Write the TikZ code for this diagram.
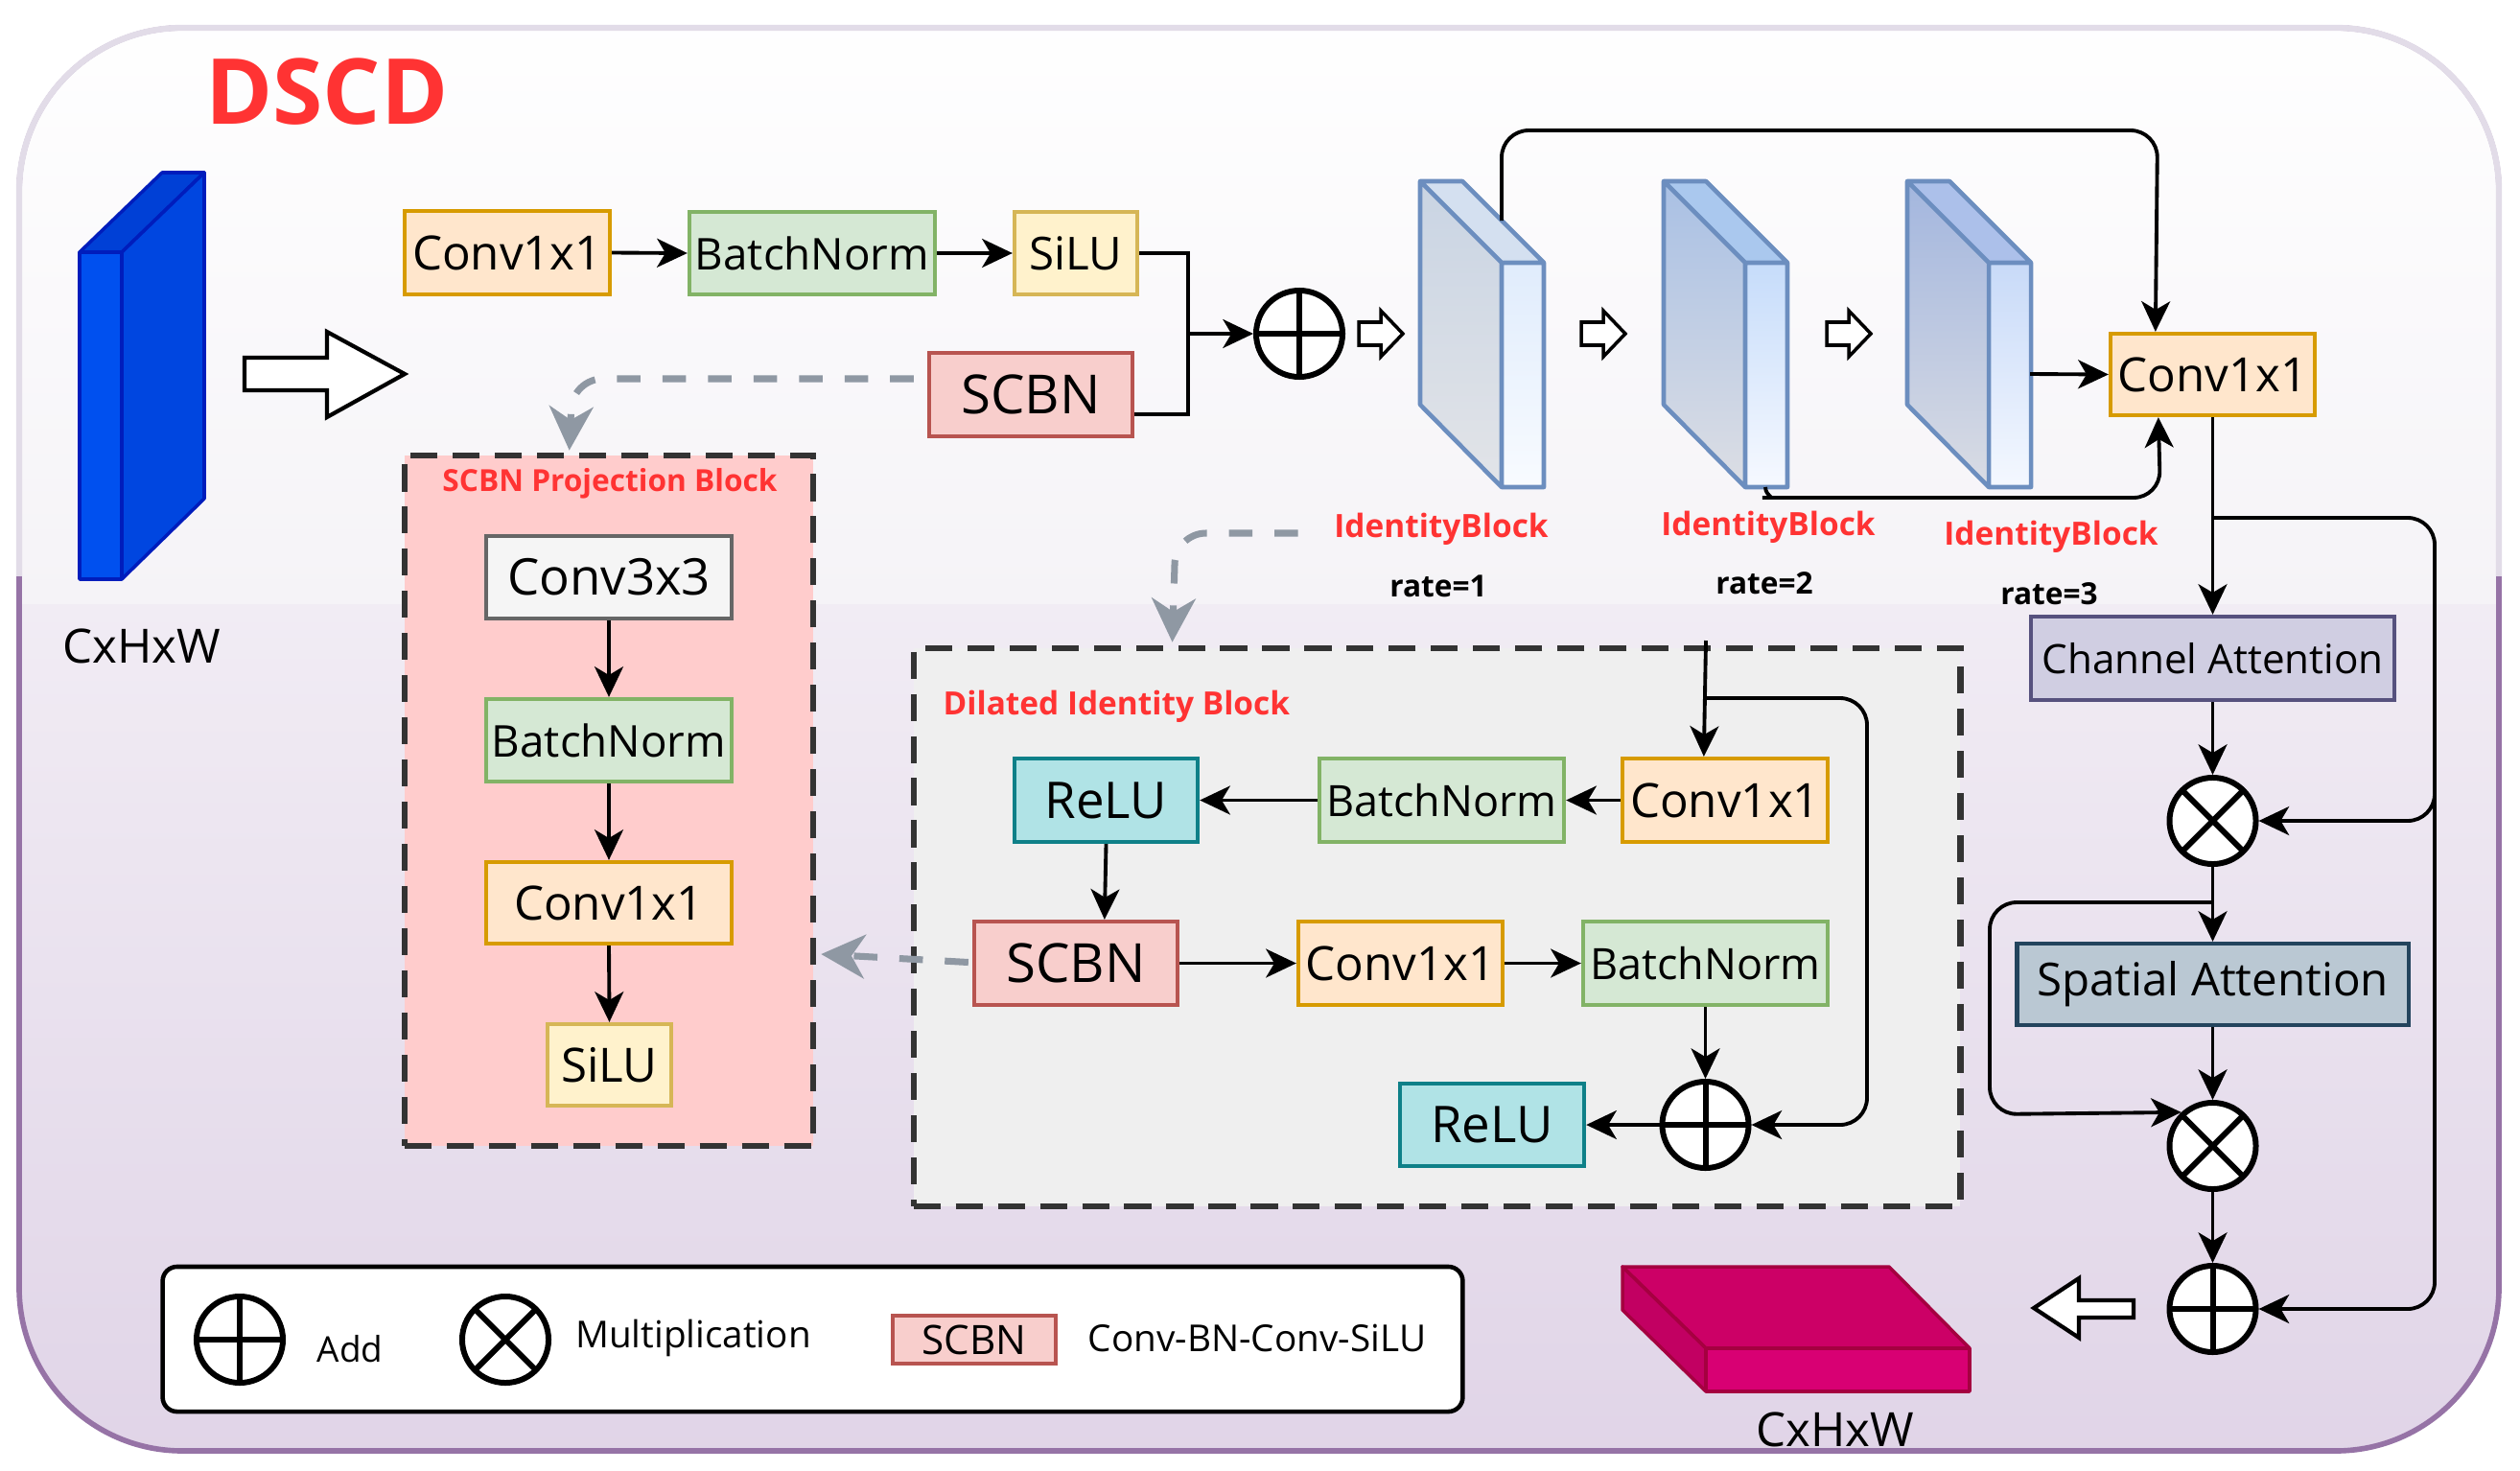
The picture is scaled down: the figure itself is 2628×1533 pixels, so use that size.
\documentclass[tikz,border=0pt]{standalone}
\usepackage{fontspec}
\setmainfont{Open Sans}
\usetikzlibrary{arrows.meta,calc}
\definecolor{ofill}{HTML}{FFE6CC}\definecolor{ostk}{HTML}{D79B00}
\definecolor{gfill}{HTML}{D5E8D4}\definecolor{gstk}{HTML}{82B366}
\definecolor{yfill}{HTML}{FFF2CC}\definecolor{ystk}{HTML}{D6B656}
\definecolor{rfill}{HTML}{F8CECC}\definecolor{rstk}{HTML}{B85450}
\definecolor{wfill}{HTML}{F5F5F5}\definecolor{wstk}{HTML}{666666}
\definecolor{cfill}{HTML}{B0E3E6}\definecolor{cstk}{HTML}{0E8088}
\definecolor{pfill}{HTML}{D0CEE2}\definecolor{pstk}{HTML}{56517E}
\definecolor{sfill}{HTML}{BAC8D3}\definecolor{sstk}{HTML}{23445D}
\definecolor{projfill}{HTML}{FFCCCC}\definecolor{dilfill}{HTML}{EFEFEF}
\definecolor{dk}{HTML}{333333}\definecolor{gry}{HTML}{8F98A3}
\definecolor{redt}{HTML}{FF3333}
\definecolor{bgmid}{HTML}{F5F3F7}\definecolor{bgmidb}{HTML}{F1ECF4}\definecolor{bglow}{HTML}{E0D4E7}
\definecolor{bordlow}{HTML}{9673A6}\definecolor{bordtop}{HTML}{E2DCE8}
\definecolor{bfront}{HTML}{0050EF}\definecolor{btop}{HTML}{0040D6}\definecolor{bside}{HTML}{0046E0}\definecolor{bstk}{HTML}{001DBC}
\definecolor{ibstk}{HTML}{6C8EBF}
\definecolor{ia1}{HTML}{C9D4E3}\definecolor{ia2}{HTML}{E2E4E8}\definecolor{ia3}{HTML}{D4E0F0}\definecolor{ia4}{HTML}{E0ECFC}\definecolor{ia5}{HTML}{F8FBFF}
\definecolor{ib1}{HTML}{A9C0E4}\definecolor{ib2}{HTML}{DCDEE4}\definecolor{ib3}{HTML}{AAC8EE}\definecolor{ib4}{HTML}{C6DCFA}\definecolor{ib5}{HTML}{F6F9FF}
\definecolor{ic1}{HTML}{A3B6DE}\definecolor{ic2}{HTML}{D9DCE4}\definecolor{ic3}{HTML}{ACC0EA}\definecolor{ic4}{HTML}{C8DAF8}\definecolor{ic5}{HTML}{F4F8FF}
\definecolor{mtop}{HTML}{CC0066}\definecolor{mfront}{HTML}{D80073}\definecolor{mside}{HTML}{C20062}\definecolor{mstk}{HTML}{A50040}
\newcommand{\fsz}[1]{\fontsize{#1}{#1}\selectfont}
\newcommand{\idblk}[6]{%
 \shade[top color=#2, bottom color=#3] ({1481+#1},189) -- ({1566+#1},274) -- ({1566+#1},508) -- ({1481+#1},422) -- cycle;
 \fill[#4] ({1481+#1},189) -- ({1525+#1},189) -- ({1610+#1},274) -- ({1566+#1},274) -- cycle;
 \shade[top color=#5, bottom color=#6] ({1566+#1},274) rectangle ({1610+#1},508);
 \draw[draw=ibstk, line width=1.3pt, line join=round] ({1481+#1},189) -- ({1525+#1},189) -- ({1610+#1},274) -- ({1610+#1},508) -- ({1566+#1},508) -- ({1481+#1},422) -- cycle
   ({1481+#1},189) -- ({1566+#1},274) -- ({1610+#1},274) ({1566+#1},274) -- ({1566+#1},508);
}
\begin{document}
\begin{tikzpicture}[x=0.01cm,y=-0.01cm,
 bx/.style={draw, line width=1.2pt, inner sep=0pt, align=center},
 wh/.style 2 args={minimum width=#1cm, minimum height=#2cm},
 obox/.style={bx, fill=ofill, draw=ostk},
 gbox/.style={bx, fill=gfill, draw=gstk},
 ybox/.style={bx, fill=yfill, draw=ystk},
 rbox/.style={bx, fill=rfill, draw=rstk},
 wbox/.style={bx, fill=wfill, draw=wstk},
 cbox/.style={bx, fill=cfill, draw=cstk},
 pbox/.style={bx, fill=pfill, draw=pstk},
 sbox/.style={bx, fill=sfill, draw=sstk},
 arr/.style={line width=1.1pt, rounded corners=8pt, -{Stealth[length=9pt,width=8.5pt,inset=2.5pt]}},
 ln/.style={line width=1.1pt, rounded corners=8pt},
 garr/.style={draw=gry, line width=2pt, dash pattern=on 7pt off 6.5pt, rounded corners=9pt, -{Stealth[length=13pt,width=13pt,inset=4pt]}},
 dashblk/.style={draw=dk, line width=1.8pt, dash pattern=on 8pt off 4.5pt, inner sep=0pt},
 addc/.style={circle, draw, fill=white, line width=1.7pt, minimum size=0.9cm, inner sep=0pt,
   path picture={\draw[line width=1.7pt] (path picture bounding box.north) -- (path picture bounding box.south) (path picture bounding box.west) -- (path picture bounding box.east);}},
 mulc/.style={circle, draw, fill=white, line width=1.7pt, minimum size=0.9cm, inner sep=0pt,
   path picture={\draw[line width=1.7pt] (path picture bounding box.north west) -- (path picture bounding box.south east) (path picture bounding box.north east) -- (path picture bounding box.south west);}},
 rlab/.style={text=redt, font=\bfseries\fsz{9.5}, inner sep=0pt},
 ratelab/.style={font=\bfseries\fsz{9}, inner sep=0pt},
 hol/.style={draw, fill=white, line width=1.2pt, line join=miter},
]
\useasboundingbox (0,0) rectangle (2628,1533);
\fill[white] (0,0) rectangle (2628,1533);
% background panel
\begin{scope}
 \clip[rounded corners=1.7cm] (20,29) rectangle (2606,1513);
 \shade[top color=white, bottom color=bgmid] (0,0) rectangle (2628,630);
 \shade[top color=bgmidb, bottom color=bglow] (0,630) rectangle (2628,1533);
\end{scope}
\draw[rounded corners=1.7cm, draw=bordlow, line width=1.6pt] (20,29) rectangle (2606,1513);
\begin{scope}
 \clip (0,0) rectangle (2628,600);
 \draw[rounded corners=1.7cm, draw=bordtop, line width=1.8pt] (20,29) rectangle (2606,1513);
\end{scope}

% title
\node[text=redt, font=\bfseries\fsz{27}, inner sep=0pt] (title) at (341,96) {DSCD};

% input block
\filldraw[fill=bfront, draw=bstk, line width=1pt, line join=round] (83,263) rectangle (127,604);
\filldraw[fill=btop, draw=bstk, line width=1pt, line join=round] (83,263) -- (127,263) -- (213,180) -- (169,180) -- cycle;
\filldraw[fill=bside, draw=bstk, line width=1pt, line join=round] (127,263) -- (213,180) -- (213,520) -- (127,604) -- cycle;
\node[font=\fsz{14}, inner sep=0pt] (inlab) at (148,674) {CxHxW};

% big hollow arrow
\draw[hol] (255,373) -- (341,373) -- (341,346) -- (422,390) -- (341,435) -- (341,407) -- (255,407) -- cycle;

% top row
\node[obox, wh={2.14}{0.87}, font=\fsz{14}] (c1) at (529,263.5) {Conv1x1};
\node[gbox, wh={2.56}{0.86}, font=\fsz{13}] (bn1) at (847,264) {BatchNorm};
\node[ybox, wh={1.28}{0.86}, font=\fsz{13.5}] (si1) at (1122,264) {SiLU};
\node[rbox, wh={2.12}{0.87}, font=\fsz{16}] (sc1) at (1075,411.5) {SCBN};
\node[addc] (add1) at (1355,348) {};
\draw[arr] (c1.east) -- (bn1.west);
\draw[arr] (bn1.east) -- (si1.west);
\draw[ln, rounded corners=0pt] (si1.east) -- (1239,264) -- (1239,432) -- ($(sc1.east)+(0,20.5)$);
\draw[arr] (1239,348) -- (add1.west);

% small hollow arrows
\foreach \x in {1417,1649,1905}{
 \draw[hol, line width=1pt] (\x,336) -- (\x+23,336) -- (\x+23,324) -- (\x+46,348) -- (\x+23,372) -- (\x+23,360) -- (\x,360) -- cycle;
}

% identity blocks
\idblk{0}{ia1}{ia2}{ia3}{ia4}{ia5}
\idblk{254}{ib1}{ib2}{ib3}{ib4}{ib5}
\idblk{508}{ic1}{ic2}{ic3}{ic4}{ic5}
\coordinate (ib1top) at (1566,230);
\coordinate (ib2bot) at (1841,508);
\coordinate (ib3front) at (2117,390);

\node[rlab] (l1) at (1503,552) {IdentityBlock};
\node[rlab] (l2) at (1844,550) {IdentityBlock};
\node[rlab] (l3) at (2139,560) {IdentityBlock};
\node[ratelab] (r1) at (1500,611) {rate=1};
\node[ratelab] (r2) at (1840,608) {rate=2};
\node[ratelab] (r3) at (2137,619) {rate=3};

% right column
\node[obox, wh={2.13}{0.85}, font=\fsz{14}] (c2) at (2307.5,390.5) {Conv1x1};
\node[pbox, wh={3.79}{0.87}, font=\fsz{12}] (ca) at (2307.5,686.5) {Channel Attention};
\node[mulc] (m1) at (2307.5,856) {};
\node[sbox, wh={4.08}{0.85}, font=\fsz{13.5}] (sa) at (2307.5,1026.5) {Spatial Attention};
\node[mulc] (m2) at (2307.5,1195) {};
\node[addc] (add2) at (2307.5,1365) {};

\draw[arr] (ib1top) -- (1566,136) -- (2250,136) -- ($(c2.north west)+(49,0)$);
\draw[arr] (ib2bot) to[out=-90,in=180] (1866,519) -- (2253,519) -- ($(c2.south west)+(52,0)$);
\draw[arr] (ib3front) -- (c2.west);
\draw[arr] (c2.south) -- (ca.north);
\draw[arr] (2307.5,540) -- (2539,540) -- (2539,1365) -- (add2.east);
\draw[arr] (2539,780) -- (2539,856) -- (m1.east);
\draw[arr] (ca.south) -- (m1.north);
\draw[arr] (m1.south) -- (sa.north);
\draw[arr] (2307.5,941) -- (2075,941) -- (2075,1162) -- (m2.133);
\draw[arr] (sa.south) -- (m2.north);
\draw[arr] (m2.south) -- (add2.north);

% output hollow arrow
\draw[hol] (2225,1356) -- (2168,1356) -- (2168,1333) -- (2121,1364) -- (2168,1395) -- (2168,1374) -- (2225,1374) -- cycle;

% output slab
\filldraw[fill=mtop, draw=mstk, line width=1pt, line join=round] (1692,1321) -- (1970,1321) -- (2054,1406) -- (1779,1406) -- cycle;
\filldraw[fill=mside, draw=mstk, line width=1pt, line join=round] (1692,1321) -- (1779,1406) -- (1779,1451) -- (1692,1366) -- cycle;
\filldraw[fill=mfront, draw=mstk, line width=1pt, line join=round] (1779,1406) rectangle (2054,1451);
\node[font=\fsz{14}, inner sep=0pt] (outlab) at (1914,1491) {CxHxW};

% SCBN projection block
\node[dashblk, fill=projfill, wh={4.26}{7.20}] (projblk) at (635,835) {};
\node[text=redt, font=\bfseries\fsz{9}, inner sep=0pt] (projtitle) at (636,504) {SCBN Projection Block};
\node[wbox, wh={2.56}{0.86}, font=\fsz{15}] (p1) at (635,602) {Conv3x3};
\node[gbox, wh={2.56}{0.86}, font=\fsz{13}] (p2) at (635,772) {BatchNorm};
\node[obox, wh={2.56}{0.85}, font=\fsz{14}] (p3) at (635,941.5) {Conv1x1};
\node[ybox, wh={1.29}{0.85}, font=\fsz{14}] (p4) at (635.5,1110.5) {SiLU};
\draw[arr] (p1.south) -- (p2.north);
\draw[arr] (p2.south) -- (p3.north);
\draw[arr] (p3.south) -- (p4.north);

% Dilated identity block
\node[dashblk, fill=dilfill, wh={10.91}{5.82}] (dilblk) at (1498.5,967) {};
\node[text=redt, font=\bfseries\fsz{9.5}, inner sep=0pt, anchor=west] (diltitle) at (983,737) {Dilated Identity Block};
\node[cbox, wh={1.91}{0.87}, font=\fsz{15}] (dr1) at (1153.5,834.5) {ReLU};
\node[gbox, wh={2.55}{0.87}, font=\fsz{12.8}] (db1) at (1503.5,834.5) {BatchNorm};
\node[obox, wh={2.14}{0.87}, font=\fsz{14}] (dc1) at (1799,834.5) {Conv1x1};
\node[rbox, wh={2.12}{0.87}, font=\fsz{16}] (dsc) at (1122,1004.5) {SCBN};
\node[obox, wh={2.13}{0.87}, font=\fsz{14}] (dc2) at (1460.5,1004.5) {Conv1x1};
\node[gbox, wh={2.55}{0.87}, font=\fsz{12.8}] (db2) at (1778.5,1004.5) {BatchNorm};
\node[cbox, wh={1.92}{0.86}, font=\fsz{15}] (dr2) at (1556,1173) {ReLU};
\node[addc] (dadd) at (1778.5,1173) {};
\coordinate (dtop) at (1779,668);
\draw[arr] (dtop) -- ($(dc1.north west)+(87,0)$);
\draw[arr] (1779,728) -- (1947,728) -- (1947,1173) -- (dadd.east);
\draw[arr] (dc1.west) -- (db1.east);
\draw[arr] (db1.west) -- (dr1.east);
\draw[arr] (dr1.south) -- ($(dsc.north west)+(138,0)$);
\draw[arr] (dsc.east) -- (dc2.west);
\draw[arr] (dc2.east) -- (db2.west);
\draw[arr] (db2.south) -- (dadd.north);
\draw[arr] (dadd.west) -- (dr2.east);

% grey dashed arrows
\draw[garr] ($(sc1.west)+(-14,-16.5)$) -- (597,395) -- ($(projblk.north west)+(175,-2)$);
\draw[garr] ($(l1.west)+(-37,4)$) -- (1226,556) -- ($(dilblk.north west)+(273,-3)$);
\draw[garr, rounded corners=0pt] ($(dsc.west)+(-4,-1)$) -- ($(projblk.east)+(5,160)$);

% legend
\node[draw, fill=white, line width=1.3pt, rounded corners=0.15cm, wh={13.55}{1.51}, inner sep=0pt] (legend) at (847.5,1396.5) {};
\node[addc] (lgadd) at (250,1397) {};
\node[font=\fsz{10.5}, inner sep=0pt] (lgaddt) at (365,1407) {Add};
\node[mulc] (lgmul) at (527,1397) {};
\node[font=\fsz{11}, inner sep=0pt] (lgmult) at (723,1395) {Multiplication};
\node[rbox, wh={1.70}{0.50}, font=\fsz{12}] (lgscbn) at (1016,1397) {SCBN};
\node[font=\fsz{11}, inner sep=0pt] (lgscbnt) at (1311,1395) {Conv-BN-Conv-SiLU};
\end{tikzpicture}
\end{document}
